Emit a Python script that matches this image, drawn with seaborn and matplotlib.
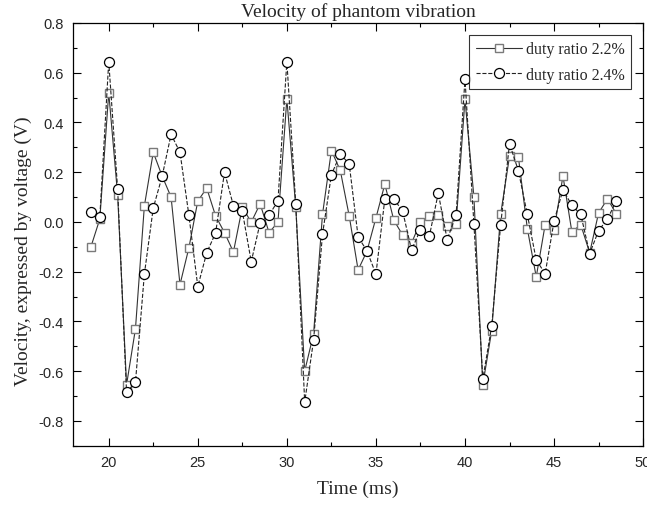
import numpy as np
import pandas as pd
import matplotlib
matplotlib.use("Agg")
import matplotlib.pyplot as plt
import seaborn as sns
from matplotlib.ticker import MultipleLocator

# tiempo (ms), cada 0.5 ms
time_ms = np.arange(19, 49, 0.5)

v_22 = [-0.10, 0.012, 0.52, 0.108, -0.655, -0.43, 0.064, 0.28, 0.184, 0.10,
        -0.252, -0.104, 0.084, 0.136, 0.024, -0.043, -0.121, 0.059, -0.001, 0.073,
        -0.043, -0.001, 0.495, 0.059, -0.60, -0.45, 0.03, 0.287, 0.207, 0.024,
        -0.193, -0.117, 0.016, 0.152, 0.008, -0.053, -0.085, 0.0, 0.024, 0.027,
        -0.015, -0.007, 0.493, 0.101, -0.655, -0.437, 0.03, 0.264, 0.26, -0.027,
        -0.221, -0.011, -0.033, 0.185, -0.04, -0.011, -0.124, 0.036, 0.093, 0.032]

v_24 = [0.039, 0.021, 0.645, 0.132, -0.685, -0.645, -0.21, 0.056, 0.184, 0.352,
        0.28, 0.027, -0.26, -0.124, -0.044, 0.20, 0.065, 0.043, -0.16, -0.004,
        0.027, 0.085, 0.645, 0.073, -0.725, -0.475, -0.05, 0.19, 0.273, 0.233,
        -0.06, -0.117, -0.21, 0.092, 0.093, 0.043, -0.113, -0.031, -0.057, 0.116,
        -0.071, 0.028, 0.575, -0.007, -0.632, -0.418, -0.013, 0.315, 0.205, 0.03,
        -0.153, -0.208, 0.003, 0.129, 0.067, 0.03, -0.127, -0.035, 0.012, 0.085]

labels = ["duty ratio 2.2%", "duty ratio 2.4%"]

df = pd.DataFrame({"t": time_ms, "v22": v_22, "v24": v_24})

sns.set_style("ticks")
plt.rcParams["font.family"] = ["Liberation Sans", "DejaVu Sans"]
plt.rcParams["xtick.direction"] = "in"
plt.rcParams["ytick.direction"] = "in"

fig, ax = plt.subplots(figsize=(6.47, 5.10), dpi=100)
fig.subplots_adjust(left=0.113, right=0.994, top=0.953, bottom=0.124)

sns.lineplot(data=df, x="t", y="v22", ax=ax, color="#333333", lw=0.8,
             marker="s", markersize=6.3, markerfacecolor="white",
             markeredgecolor="#7a7a7a", markeredgewidth=1.0, label=labels[0])
sns.lineplot(data=df, x="t", y="v24", ax=ax, color="#222222", lw=0.8,
             linestyle="--", marker="o", markersize=7.2, markerfacecolor="white",
             markeredgecolor="black", markeredgewidth=0.9, label=labels[1])

ax.set_xlim(18, 50)
ax.set_ylim(-0.9, 0.8)
ax.xaxis.set_major_locator(MultipleLocator(5))
ax.xaxis.set_minor_locator(MultipleLocator(2.5))
ax.yaxis.set_major_locator(MultipleLocator(0.2))
ax.yaxis.set_minor_locator(MultipleLocator(0.1))
ax.yaxis.set_major_formatter(plt.FuncFormatter(lambda v, p: f"{v:.1f}"))
ax.tick_params(which="both", top=True, right=True, labelsize=10.5, color="black", pad=7)
ax.tick_params(which="major", length=6, width=0.8)
ax.tick_params(which="minor", length=3, width=0.8)
for s in ax.spines.values():
    s.set_color("black")
    s.set_linewidth(0.9)

serif = ["Liberation Serif", "DejaVu Serif"]
ax.set_title("Velocity of phantom vibration", family=serif, fontsize=14, pad=5)
ax.set_xlabel("Time (ms)", family=serif, fontsize=14, labelpad=7)
ax.set_ylabel("Velocity, expressed by voltage (V)", family=serif, fontsize=14)
ax.yaxis.set_label_coords(-0.072, 0.463)

leg = ax.legend(loc="upper right", prop={"family": serif, "size": 11.5},
                frameon=True, fancybox=False, edgecolor="black",
                handlelength=2.9, handletextpad=0.25, borderaxespad=0.75,
                labelspacing=0.6, borderpad=0.4)
leg.get_frame().set_linewidth(0.8)

fig.savefig("out.png", dpi=100)
